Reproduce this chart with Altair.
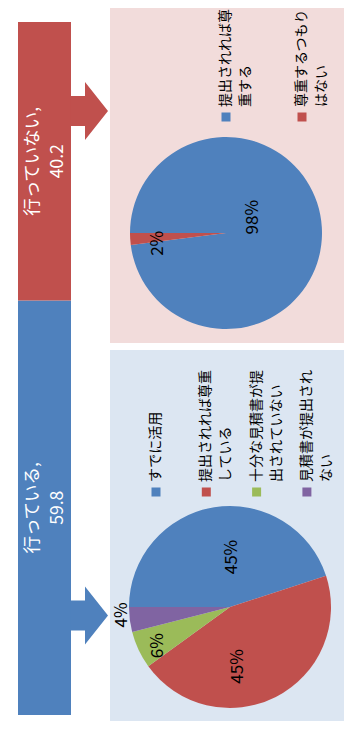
import math
import altair as alt
import pandas as pd

# ---------------- data ----------------
bar_cats = ["行っている", "行っていない"]
bar_vals = [59.8, 40.2]

top_cats = ["提出されれば尊重する", "尊重するつもりはない"]
top_vals = [98, 2]

bot_cats = ["すでに活用", "提出されれば尊重している", "十分な見積書が提出されていない", "見積書が提出されない"]
bot_vals = [45, 45, 6, 4]

# ---------------- styles / layout ----------------
BLUE, RED, GREEN, PURPLE = "#4f81bd", "#c0504d", "#9bbb59", "#8064a2"
bar_colors = [BLUE, RED]
top_colors = [BLUE, RED]
bot_colors = [BLUE, RED, GREEN, PURPLE]

FONT = "Noto Sans CJK JP"
W, H = 341, 713

# label placement (radius in px, angular nudge in degrees) – like Excel "best fit"
top_label_r = [31, 69]
top_label_nudge = [-27, -5]
bot_label_r = [50, 60, 82, 108]
bot_label_nudge = [11, 19, -3, 3]

one = pd.DataFrame({"k": [0]})


def panel(x1, x2, y1, y2, color):
    return alt.Chart(one).mark_rect(color=color).encode(
        x=alt.value(x1), x2=alt.value(x2), y=alt.value(y1), y2=alt.value(y2)
    )


# stacked bar
bar_df = pd.DataFrame({"i": list(range(len(bar_cats))), "cat": bar_cats, "v": bar_vals, "c": bar_colors})
yscale = alt.Scale(domain=[0, 100], range=[707, 14])
bar_base = (
    alt.Chart(bar_df)
    .transform_window(cum="sum(v)", sort=[alt.SortField("i")], frame=[None, 0])
    .transform_calculate(
        y0="datum.cum - datum.v",
        mid="datum.cum - datum.v / 2",
        lbl="[datum.cat + ',', format(datum.v, '.1f')]",
    )
)
bar = bar_base.mark_rect().encode(
    x=alt.value(10), x2=alt.value(63),
    y=alt.Y("y0:Q", scale=yscale, axis=None), y2="cum:Q",
    color=alt.Color("c:N", scale=None),
)
bar_text = bar_base.mark_text(
    angle=270, font=FONT, fontSize=17.5, lineHeight=25, color="white",
    align="center", baseline="middle",
).encode(x=alt.value(25), y=alt.Y("mid:Q", scale=yscale, axis=None), text="lbl:N")

# arrows
ARROW = "M-0.638,-0.517L-0.155,-0.517L-0.155,-1L0.638,0L-0.155,1L-0.155,0.517L-0.638,0.517Z"


def arrow(y, color):
    return alt.Chart(one).mark_point(
        shape=ARROW, size=3364, filled=True, opacity=1, color=color, strokeWidth=0
    ).encode(x=alt.value(81.5), y=alt.value(y))


theta_scale = alt.Scale(domain=[0, 100], range=[1.5 * math.pi, 3.5 * math.pi])


def pie(cats, vals, colors, label_r, nudge, cx, cy, r):
    df = pd.DataFrame({"i": list(range(len(cats))), "cat": cats, "v": vals, "c": colors,
                       "lr": label_r, "nd": nudge})
    base = alt.Chart(df)
    arcs = base.mark_arc(radius=r).encode(
        theta=alt.Theta("v:Q", stack=True, scale=theta_scale),
        color=alt.Color("c:N", scale=None),
        detail="i:N",
        order=alt.Order("i:Q"),
        x=alt.value(cx), y=alt.value(cy),
    )
    labels = (
        base.transform_window(cum="sum(v)", sort=[alt.SortField("i")], frame=[None, 0])
        .transform_calculate(mid="datum.cum - datum.v / 2 + datum.nd * 100 / 360",
                             pct="format(datum.v, 'd') + '%'")
        .mark_text(angle=270, font=FONT, fontSize=17, color="black", align="center", baseline="middle")
        .encode(
            theta=alt.Theta("mid:Q", stack=None, scale=theta_scale),
            radius=alt.Radius("lr:Q", scale=None),
            text="pct:N",
            x=alt.value(cx), y=alt.value(cy),
        )
    )
    return [arcs, labels]


def legend(cats, colors, wrapn, x0, step, sq_y, txt_y, lh):
    rows = []
    for i, cat in enumerate(cats):
        lines = [cat[k:k + wrapn] for k in range(0, len(cat), wrapn)]
        for j, ln in enumerate(lines):
            rows.append({"i": i, "j": j, "t": ln})
    sq_df = pd.DataFrame({"i": list(range(len(cats))), "c": colors})
    squares = alt.Chart(sq_df).transform_calculate(
        lx=f"{x0} + datum.i * {step}"
    ).mark_square(size=81, opacity=1, filled=True).encode(
        x=alt.X("lx:Q", scale=None, axis=None), y=alt.value(sq_y),
        color=alt.Color("c:N", scale=None),
    )
    texts = alt.Chart(pd.DataFrame(rows)).transform_calculate(
        lx=f"{x0} + datum.i * {step} + datum.j * {lh}"
    ).mark_text(
        angle=270, align="left", baseline="middle", font=FONT, fontSize=14, color="black"
    ).encode(
        x=alt.X("lx:Q", scale=None, axis=None), y=alt.value(txt_y), text="t:N"
    )
    return [squares, texts]


layers = [
    panel(102, 336, 0, 335, "#f2dcdb"),
    panel(102, 336, 342, 714, "#dce6f2"),
    bar,
    bar_text,
    arrow(103, RED),
    arrow(607.5, BLUE),
]
layers += pie(top_cats, top_vals, top_colors, top_label_r, top_label_nudge, 218, 225, 96)
layers += pie(bot_cats, bot_vals, bot_colors, bot_label_r, bot_label_nudge, 222, 599, 101)
layers += legend(top_cats, top_colors, 7, 218, 76, 109, 99, 20)
layers += legend(bot_cats, bot_colors, 8, 148, 50.3, 484, 474, 20)

chart = alt.layer(*layers).properties(
    width=W, height=H, padding=0,
    autosize=alt.AutoSizeParams(type="none"),
    background="white",
).configure_view(stroke=None)

chart.save("out.html", embed_options={"renderer": "svg", "actions": False})
